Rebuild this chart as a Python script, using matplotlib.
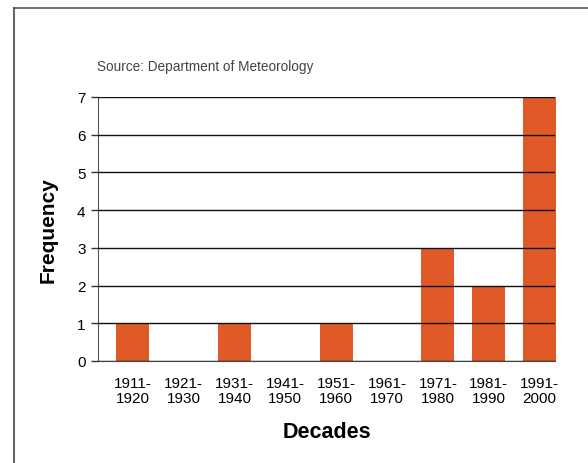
import matplotlib
matplotlib.use("Agg")
import matplotlib.pyplot as plt
from matplotlib.lines import Line2D

decades = ["1911-\n1920", "1921-\n1930", "1931-\n1940", "1941-\n1950", "1951-\n1960",
           "1961-\n1970", "1971-\n1980", "1981-\n1990", "1991-\n2000"]
frequency = [1, 0, 1, 0, 1, 0, 3, 2, 7]

plt.rcParams['font.family'] = ['Liberation Sans', 'DejaVu Sans']

fig = plt.figure(figsize=(5.88, 4.64), dpi=100)
ax = fig.add_axes([98/588, 1-362/464, (555-98)/588, (362-98)/464])

x = list(range(len(decades)))
ax.bar(x, frequency, width=0.65, color="#E05A28", zorder=2, clip_on=False)

ax.set_ylim(0, 7)
ax.set_xlim(-0.68, 8.30)
ax.set_yticks(range(0, 8))
ax.yaxis.grid(True, color="#111111", linewidth=1.0, zorder=3)
ax.set_axisbelow(False)
for line in ax.get_ygridlines():
    line.set_zorder(3)

ax.set_xticks(x)
ax.set_xticklabels(decades, fontsize=11, linespacing=1.05)
ax.tick_params(axis='x', length=0, pad=11)
ax.tick_params(axis='y', length=5, width=1, color="#333333", labelsize=11, pad=4)

for s in ["top", "right"]:
    ax.spines[s].set_visible(False)
ax.spines["left"].set_color("#555555")
ax.spines["bottom"].set_color("#444444")
ax.spines["bottom"].set_zorder(4)

ax.set_ylabel("Frequency", fontsize=15, fontweight="bold", labelpad=14)
ax.set_xlabel("Decades", fontsize=15.5, fontweight="bold", labelpad=12)

fig.text(97/588, 1-67/464, "Source: Department of Meteorology", fontsize=9.8,
         color="#444444", va="center", ha="left")

# outer frame
fig.add_artist(Line2D([14/588, 14/588], [0, 1-9/464], transform=fig.transFigure,
                      color="#666666", linewidth=1.5))
fig.add_artist(Line2D([14/588, 1], [1-9/464, 1-9/464], transform=fig.transFigure,
                      color="#555555", linewidth=1.2))

fig.savefig("out.png", dpi=100)
